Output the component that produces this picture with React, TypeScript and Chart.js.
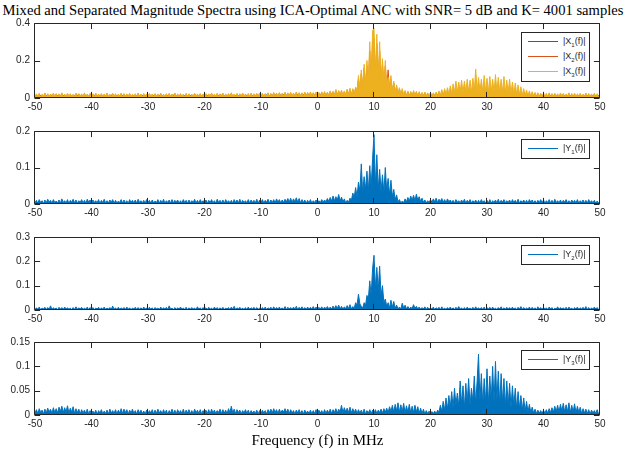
import React, { useEffect, useRef } from "react";
import { Chart, registerables } from "chart.js";

Chart.register(...registerables);

// ---------------- DATA ----------------
// Frequency grid: -50 MHz .. 50 MHz, 0.25 MHz step (401 samples). Magnitudes in units of 1e-3.
const FREQ_START_MHZ = -50;
const FREQ_STEP_MHZ = 0.25;
const MAG_UNIT = 0.001;

const X_TICKS = [-50, -40, -30, -20, -10, 0, 10, 20, 30, 40, 50];
const Y_TICKS_X = [0, 0.2, 0.4];
const Y_TICKS_Y1 = [0, 0.1, 0.2];
const Y_TICKS_Y2 = [0, 0.1, 0.2, 0.3];
const Y_TICKS_Y3 = [0, 0.05, 0.1, 0.15];

// |X1(f)| (x1e-3)
const X1_MAG = [
  14,3,12,2,16,4,11,3,15,1,13,4,17,2,12,3,14,4,11,2,16,3,13,1,15,4,12,2,14,3,17,2,11,4,13,3,15,1,12,4,
  12,2,15,4,11,3,16,1,13,4,14,2,12,3,17,4,11,2,15,3,13,1,16,4,12,2,14,3,11,4,15,2,13,1,12,3,16,4,14,2,
  15,3,11,2,14,4,12,1,16,3,13,4,11,2,15,3,12,4,17,1,13,2,14,4,11,3,16,2,12,4,15,1,13,3,11,2,14,4,12,3,
  13,4,16,2,12,3,15,4,11,1,14,3,17,2,13,4,12,3,16,2,11,4,15,1,13,3,14,2,12,4,16,3,11,2,15,4,13,1,17,3,
  16,4,14,3,18,5,15,4,17,3,19,5,16,4,18,3,20,5,17,4,19,3,16,5,18,4,20,3,17,5,19,4,18,3,21,5,17,4,20,5,
  18,5,20,4,19,6,22,5,20,6,23,7,21,6,24,7,22,5,20,6,23,7,25,8,26,9,28,10,30,12,34,14,38,12,40,15,42,14,45,16,
  14,48,15,44,12,40,13,36,10,32,9,28,8,25,7,22,6,20,5,19,6,18,4,17,5,18,4,16,5,17,3,16,4,15,5,17,3,15,4,16,
  4,17,5,18,6,19,5,20,7,22,6,23,8,24,7,22,8,25,6,24,8,26,7,25,9,27,8,24,7,26,9,28,8,25,7,27,9,26,8,28,
  9,27,8,29,7,26,9,28,8,25,7,27,6,24,8,26,7,23,6,22,5,21,6,20,5,19,4,18,5,17,4,16,3,17,4,15,3,16,4,14,
  3,15,4,13,2,16,3,12,4,14,2,15,3,13,4,16,2,12,3,15,4,14,2,13,3,16,4,12,2,15,3,14,4,13,2,16,3,12,4,15,
  3,
];

// |X2(f)| (x1e-3)
const X2_MAG = [
  3,19,5,22,2,17,4,24,3,20,6,18,4,23,5,21,2,19,6,25,3,18,5,22,6,20,4,17,5,23,2,21,6,19,4,24,5,18,3,22,
  5,20,3,23,6,18,4,21,2,19,6,24,5,17,3,22,6,20,4,18,5,23,2,21,4,19,6,22,3,17,5,20,4,24,6,18,2,21,5,19,
  3,22,5,18,4,21,6,19,2,23,4,17,6,20,3,22,5,18,4,24,6,19,3,21,4,18,2,22,6,20,4,17,5,23,3,19,6,21,4,18,
  4,21,3,19,6,24,4,18,5,22,2,20,6,23,4,19,3,21,6,25,4,18,5,22,2,20,4,24,6,19,3,21,5,23,4,20,6,22,5,24,
  6,23,4,21,7,25,5,22,5,27,4,24,6,26,5,23,7,28,5,25,8,27,5,24,6,29,4,26,7,25,5,28,8,27,5,30,6,26,9,29,
  6,26,8,30,10,31,7,28,11,34,10,33,12,40,10,36,12,38,8,34,12,42,15,46,14,45,18,52,35,100,45,130,50,160,60,170,80,250,90,300,
  320,100,290,95,250,80,180,60,170,50,150,45,100,30,80,25,60,18,48,15,42,12,34,10,32,8,30,10,34,12,30,8,28,10,26,7,27,9,24,6,
  24,8,22,10,25,9,27,11,28,10,30,12,29,11,31,13,32,12,33,14,34,12,35,13,33,14,36,12,34,13,37,14,35,12,36,13,34,12,38,14,
  36,12,38,13,35,14,37,12,34,13,36,11,33,12,35,10,31,11,30,9,28,10,27,8,26,9,25,7,24,8,23,6,24,7,22,5,23,6,21,5,
  21,4,19,6,23,3,18,7,20,5,17,2,22,6,19,4,16,7,23,3,18,5,21,2,17,6,20,4,15,7,22,3,18,5,16,2,21,6,17,4,
  5,
];

// |X3(f)| (x1e-3)
const X3_MAG = [
  5,22,8,25,3,20,6,27,4,23,9,21,5,26,7,24,3,22,8,28,4,21,6,25,9,23,5,20,7,26,3,24,8,22,5,27,6,21,4,25,
  7,23,4,26,8,21,5,24,3,22,9,27,6,20,4,25,8,23,5,21,7,26,3,24,6,22,9,25,4,20,7,23,5,27,8,21,3,24,6,22,
  4,25,7,21,5,24,8,22,3,26,6,20,9,23,4,25,7,21,5,27,8,22,4,24,6,21,3,25,9,23,5,20,7,26,4,22,8,24,5,21,
  6,24,4,22,8,27,5,21,7,25,3,23,9,26,6,22,4,24,8,28,5,21,7,25,3,23,6,27,8,22,4,24,7,26,5,23,9,25,6,27,
  8,26,5,24,9,28,6,25,7,30,5,27,8,29,6,26,9,31,7,28,10,30,6,27,8,32,5,29,9,28,7,31,10,30,6,33,8,29,11,32,
  8,30,10,33,12,35,9,31,14,38,12,36,15,45,12,40,14,42,10,38,15,48,18,52,16,50,20,58,40,120,50,150,60,180,70,200,90,300,100,360,
  370,120,340,110,300,90,210,70,200,60,110,50,120,35,90,30,70,20,55,18,50,15,40,12,38,10,35,12,40,14,36,10,34,12,30,9,32,11,28,8,
  30,10,28,12,32,14,38,15,45,18,50,20,55,22,65,25,75,28,90,30,85,32,95,30,90,35,100,32,95,30,105,35,155,38,110,35,100,32,120,35,
  105,30,115,35,100,30,125,35,110,32,100,30,115,28,95,30,100,25,85,22,80,20,70,18,60,15,50,14,42,12,38,10,34,9,30,8,28,10,26,7,
  27,6,25,8,28,5,24,9,26,7,23,4,27,8,25,6,22,9,28,5,24,7,26,4,23,8,25,6,21,9,27,5,24,7,22,4,26,8,23,6,
  8,
];

// |Y1(f)| (x1e-3)
const Y1_MAG = [
  3,10,2,12,4,9,1,11,3,13,5,10,2,12,4,8,3,11,2,14,4,9,3,12,1,10,5,13,3,11,2,9,4,12,3,10,2,13,5,11,
  2,11,4,9,3,12,1,10,4,13,2,9,3,11,5,12,2,10,3,8,4,12,2,11,3,9,1,12,4,10,3,11,2,13,4,9,3,10,2,12,
  4,10,2,11,3,8,4,12,2,10,3,13,1,9,4,11,2,12,3,10,5,11,2,9,3,12,4,10,2,11,3,9,4,13,2,10,3,12,4,9,
  3,11,2,10,4,12,3,9,2,13,4,10,3,11,1,12,4,9,3,10,2,12,4,11,3,13,2,10,4,9,3,12,2,11,4,10,3,13,2,11,
  4,12,3,10,5,13,2,11,4,12,3,14,5,12,3,11,4,13,6,15,5,16,4,14,6,17,5,15,3,12,4,11,2,10,3,12,2,9,4,11,
  3,9,4,12,5,11,6,15,7,18,8,22,9,20,11,26,8,19,6,14,3,10,5,16,10,30,18,45,20,60,35,110,30,75,40,90,35,105,45,125,
  190,50,135,40,95,35,80,30,100,35,70,25,65,20,40,12,25,6,12,3,8,4,14,6,18,8,22,10,24,9,27,11,20,7,16,5,11,3,9,4,
  12,5,14,6,16,4,13,7,15,5,12,3,14,6,11,4,10,2,12,5,9,3,11,4,13,2,10,5,12,3,9,4,11,2,10,3,12,4,9,2,
  10,3,12,2,9,4,11,3,13,2,10,5,12,3,9,4,11,2,12,4,10,3,13,2,9,4,11,3,10,2,12,5,11,3,9,2,10,4,12,3,
  11,2,9,4,12,3,10,2,13,4,9,3,11,2,10,5,12,3,9,2,11,4,10,3,12,2,9,4,11,3,10,2,12,4,9,3,10,2,8,3,
  4,
];

// |Y2(f)| (x1e-3)
const Y2_MAG = [
  2,9,3,12,1,8,4,11,2,10,3,17,2,9,4,8,1,11,3,10,2,12,4,9,3,8,1,10,2,13,3,9,4,11,2,8,3,12,1,10,
  3,10,2,8,4,11,1,9,3,12,2,8,4,10,3,16,2,9,1,11,3,8,4,10,2,12,3,9,1,8,4,11,2,10,3,9,2,12,4,8,
  2,11,3,9,1,10,4,8,2,12,3,9,4,11,2,17,3,8,1,10,2,9,4,12,3,8,2,11,1,9,3,10,4,8,2,13,3,9,2,10,
  4,9,2,11,3,8,1,12,4,10,2,9,3,11,2,8,4,10,1,12,3,15,2,9,4,11,3,8,2,10,1,12,3,9,4,11,2,10,3,8,
  2,10,3,12,1,9,4,11,2,13,3,10,4,12,2,9,3,14,1,11,4,10,2,12,3,15,2,11,4,13,3,10,2,12,4,11,3,14,2,12,
  3,11,4,13,2,12,5,14,3,12,4,16,5,18,6,20,4,15,3,13,5,18,6,22,5,14,8,30,20,65,25,15,8,30,18,60,45,120,60,170,
  225,90,175,80,180,60,100,30,45,15,30,8,40,12,35,8,20,5,12,4,28,8,20,5,14,4,12,6,22,7,15,4,12,3,10,4,13,2,11,3,
  10,3,12,2,9,4,11,1,13,3,8,2,10,4,12,3,9,2,11,4,14,3,9,1,10,2,12,4,8,3,11,2,13,4,9,3,10,2,12,1,
  9,4,11,2,12,3,8,1,10,4,13,2,9,3,11,4,10,2,12,3,9,1,11,4,14,2,10,3,8,4,12,2,11,3,9,1,13,4,10,2,
  11,3,9,2,12,4,10,1,8,3,13,2,10,4,9,3,11,2,12,4,8,1,10,3,12,2,9,4,11,3,14,2,10,1,9,3,12,4,10,2,
  3,
];

// |Y3(f)| (x1e-3)
const Y3_MAG = [
  4,11,3,13,5,10,2,12,4,14,6,12,3,15,5,13,4,16,7,18,5,15,6,19,4,14,6,17,3,13,5,12,2,11,4,10,3,12,2,9,
  2,8,3,10,1,9,4,11,2,8,3,10,2,12,4,9,3,11,2,10,4,13,3,12,5,11,2,10,4,12,3,9,2,11,4,10,3,8,2,10,
  3,9,4,11,2,10,3,12,4,9,2,11,3,10,1,9,4,12,3,10,2,11,4,9,3,12,2,10,4,11,3,9,2,12,4,10,3,11,2,9,
  4,10,3,11,2,12,4,10,3,9,5,12,3,11,4,10,2,13,5,18,4,12,3,11,5,10,2,9,4,11,3,10,2,9,4,8,3,10,2,9,
  3,10,4,9,2,11,5,12,4,13,5,11,3,12,4,10,6,13,5,12,3,11,4,9,2,10,4,11,3,9,2,10,4,8,3,10,2,9,3,11,
  3,10,4,9,2,11,3,10,4,12,3,11,5,13,4,12,6,20,5,15,6,14,5,16,4,13,5,12,3,11,4,10,3,12,2,9,4,11,3,10,
  4,11,3,10,5,12,4,13,6,14,5,17,7,20,6,22,8,25,6,21,7,24,5,19,6,22,4,18,5,20,6,17,4,14,3,12,2,9,3,8,
  2,7,3,8,2,10,6,20,8,28,10,35,12,40,15,48,14,55,20,45,18,70,22,60,15,65,25,75,20,55,28,80,22,70,125,30,85,20,75,25,
  95,22,80,30,100,25,110,28,90,20,85,25,75,18,70,20,65,15,60,18,55,12,48,14,40,10,35,8,28,6,22,5,16,4,12,3,10,4,9,3,
  10,3,11,4,13,5,15,6,18,7,20,6,22,8,24,6,21,7,25,5,20,6,23,4,18,5,16,3,13,4,12,3,11,2,10,4,9,3,11,2,
  4,
];

// ---------------- STYLE ----------------
const BLUE = "#0072BD";
const RED = "#D95319";
const YELLOW = "#EDB120";
const AXIS = "#262626";
const SANS = '"Liberation Sans", Arial, sans-serif';
const SERIF = '"Liberation Serif", "Times New Roman", serif';

const W = 626;
const PLOT_LEFT = 35;
const PLOT_RIGHT = 600;
const PAD_TOP = 10;
const AXIS_H = 20;
const TICK_LEN = 5.6;

type Series = { data: number[]; color: string; sym: string; idx: string; filled: boolean };
type PanelDef = { top: number; bottom: number; yTicks: number[]; series: Series[]; legendTop: number };

const PANELS: PanelDef[] = [
  {
    top: 22, bottom: 98, yTicks: Y_TICKS_X, legendTop: 32,
    series: [
      { data: X1_MAG, color: BLUE, sym: "X", idx: "1", filled: false },
      { data: X2_MAG, color: RED, sym: "X", idx: "2", filled: false },
      { data: X3_MAG, color: YELLOW, sym: "X", idx: "3", filled: true },
    ],
  },
  { top: 130, bottom: 204, yTicks: Y_TICKS_Y1, legendTop: 139, series: [{ data: Y1_MAG, color: BLUE, sym: "Y", idx: "1", filled: true }] },
  { top: 236, bottom: 310, yTicks: Y_TICKS_Y2, legendTop: 245, series: [{ data: Y2_MAG, color: BLUE, sym: "Y", idx: "2", filled: true }] },
  { top: 341, bottom: 415, yTicks: Y_TICKS_Y3, legendTop: 350, series: [{ data: Y3_MAG, color: BLUE, sym: "Y", idx: "3", filled: true }] },
];

const framePlugin = {
  id: "matlabFrame",
  afterDatasetsDraw(chart: any) {
    const { ctx, chartArea: a, scales } = chart;
    const L = Math.round(a.left) - 0.5;
    const R = Math.round(a.right) - 0.5;
    const T = Math.round(a.top) + 0.5;
    const B = Math.round(a.bottom) - 0.5;
    ctx.save();
    ctx.strokeStyle = AXIS;
    ctx.lineWidth = 1;
    ctx.beginPath();
    ctx.rect(L, T, R - L, B - T);
    for (const t of scales.x.ticks) {
      const px = Math.round(scales.x.getPixelForValue(t.value)) - 0.5;
      ctx.moveTo(px, B);
      ctx.lineTo(px, B - TICK_LEN);
      ctx.moveTo(px, T);
      ctx.lineTo(px, T + TICK_LEN);
    }
    for (const t of scales.y.ticks) {
      const py = Math.round(scales.y.getPixelForValue(t.value)) + 0.5;
      ctx.moveTo(L, py);
      ctx.lineTo(L + TICK_LEN, py);
      ctx.moveTo(R, py);
      ctx.lineTo(R - TICK_LEN, py);
    }
    ctx.stroke();
    ctx.restore();
  },
};

function Panel({ def }: { def: PanelDef }) {
  const ref = useRef<HTMLCanvasElement>(null);
  const h = def.bottom - def.top + PAD_TOP + AXIS_H;
  useEffect(() => {
    const yMax = def.yTicks[def.yTicks.length - 1];
    const n = def.series.length;
    const chart = new Chart(ref.current as HTMLCanvasElement, {
      type: "line",
      data: {
        datasets: def.series.map((s, k) => ({
          label: s.sym + s.idx,
          data: s.data.map((v, i) => ({ x: FREQ_START_MHZ + i * FREQ_STEP_MHZ, y: v * MAG_UNIT })),
          borderColor: s.color,
          backgroundColor: s.color,
          borderWidth: 1,
          pointRadius: 0,
          tension: 0,
          fill: s.filled ? "origin" : false,
          order: n - 1 - k, // later series drawn on top (MATLAB plot order)
        })),
      },
      options: {
        animation: false,
        responsive: false,
        devicePixelRatio: 1,
        events: [],
        layout: { padding: { top: PAD_TOP, left: 0, right: W - PLOT_RIGHT, bottom: 0 } },
        plugins: { legend: { display: false }, tooltip: { enabled: false }, title: { display: false } },
        scales: {
          x: {
            type: "linear",
            min: -50,
            max: 50,
            afterBuildTicks: (s: any) => { s.ticks = X_TICKS.map((v) => ({ value: v })); },
            afterFit: (s: any) => { s.height = AXIS_H; },
            ticks: {
              color: AXIS,
              font: { family: SANS, size: 10 },
              padding: 3,
              maxRotation: 0,
              autoSkip: false,
              callback: (v: any) => String(v),
            },
            grid: { display: false, drawTicks: false },
            border: { display: false },
          },
          y: {
            type: "linear",
            min: 0,
            max: yMax,
            afterBuildTicks: (s: any) => { s.ticks = def.yTicks.map((v) => ({ value: v })); },
            afterFit: (s: any) => { s.width = PLOT_LEFT; },
            ticks: {
              color: AXIS,
              font: { family: SANS, size: 10 },
              padding: 5,
              callback: (v: any) => String(+Number(v).toFixed(3)),
            },
            grid: { display: false, drawTicks: false },
            border: { display: false },
          },
        },
      },
      plugins: [framePlugin],
    } as any);
    return () => chart.destroy();
  }, []);
  return (
    <canvas
      ref={ref}
      width={W}
      height={h}
      style={{ position: "absolute", left: 0, top: def.top - PAD_TOP, width: W, height: h }}
    />
  );
}

function Legend({ def }: { def: PanelDef }) {
  const rowH = 15;
  const n = def.series.length;
  return (
    <div
      style={{
        position: "absolute",
        left: 521,
        top: def.legendTop,
        width: 69,
        height: n * rowH + 5,
        border: `1px solid ${AXIS}`,
        background: "#fff",
        boxSizing: "border-box",
      }}
    >
      {def.series.map((s, i) => (
        <div key={i} style={{ position: "absolute", left: 0, top: 2 + i * rowH, width: "100%", height: rowH }}>
          <div style={{ position: "absolute", left: 6, top: 6, width: 30, height: 0, borderTop: `1px solid ${s.color}` }} />
          <span
            style={{
              position: "absolute",
              left: 41,
              top: 0,
              fontFamily: SANS,
              fontSize: 9,
              lineHeight: "12px",
              color: AXIS,
              whiteSpace: "nowrap",
            }}
          >
            |{s.sym}
            <span style={{ fontSize: 6, position: "relative", top: 3 }}>{s.idx}</span>
            (f)|
          </span>
        </div>
      ))}
    </div>
  );
}

export default function App() {
  return (
    <div style={{ position: "absolute", left: 0, top: 0, width: W, height: 453, background: "#fff", overflow: "hidden" }}>
      <div
        style={{
          position: "absolute",
          left: 0,
          top: 1,
          width: W,
          textAlign: "center",
          fontFamily: SERIF,
          fontSize: 14.6,
          lineHeight: "18px",
          color: "#000",
          whiteSpace: "nowrap",
        }}
      >
        Mixed and Separated Magnitude Spectra using ICA-Optimal ANC with SNR= 5 dB and K= 4001 samples
      </div>
      {PANELS.map((p, i) => (
        <Panel key={i} def={p} />
      ))}
      {PANELS.map((p, i) => (
        <Legend key={"l" + i} def={p} />
      ))}
      <div
        style={{
          position: "absolute",
          left: PLOT_LEFT,
          top: 431,
          width: PLOT_RIGHT - PLOT_LEFT,
          textAlign: "center",
          fontFamily: SERIF,
          fontSize: 15,
          lineHeight: "18px",
          color: "#000",
        }}
      >
        Frequency (f) in MHz
      </div>
    </div>
  );
}
